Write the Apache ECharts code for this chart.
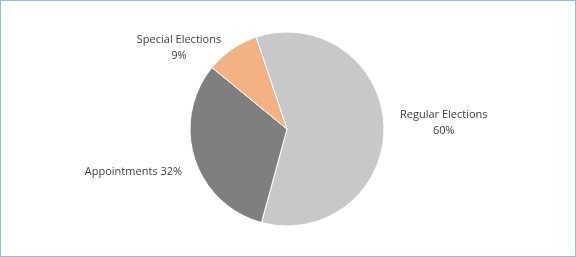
<!DOCTYPE html>
<html>
<head>
<meta charset="utf-8">
<script src="https://cdn.jsdelivr.net/npm/echarts@6/dist/echarts.min.js"></script>
<style>
html,body{margin:0;padding:0;background:#fff;}
#frame{width:576px;height:257px;box-sizing:border-box;border:1px solid #8fbbe4;position:relative;}
#chart{position:absolute;left:0;top:0;width:574px;height:255px;}
</style>
</head>
<body>
<div id="frame"><div id="chart"></div></div>
<script>
const categories = ['Regular Elections', 'Appointments', 'Special Elections'];
const values = [60, 32, 9];
const colors = ['#c8c8c8', '#7f7f7f', '#f4b183'];
const labelTemplates = ['{b}\n{c}%', '{b} {c}%', '{b}\n{c}%'];
// per-label fine offsets (from default outside position, centre of label box)
const labelShift = [[-3, -3], [6, 10], [4, 7]];

const chart = echarts.init(document.getElementById('chart'), null, {renderer: 'canvas'});
chart.setOption({
  animation: false,
  series: [{
    type: 'pie',
    center: [286, 128],
    radius: 97,
    startAngle: 108.6,
    clockwise: true,
    avoidLabelOverlap: false,
    itemStyle: {borderColor: '#ffffff', borderWidth: 1},
    label: {
      show: true,
      position: 'outside',
      fontFamily: 'Open Sans',
      fontSize: 11,
      color: '#404040',
      lineHeight: 16
    },
    labelLine: {show: false, length: 10, length2: 4},
    labelLayout: function (params) {
      const s = labelShift[params.dataIndex];
      const r = params.labelRect;
      return {
        x: r.x + r.width / 2 + s[0],
        y: r.y + r.height / 2 + s[1],
        align: 'center',
        verticalAlign: 'middle'
      };
    },
    data: categories.map((c, i) => ({
      name: c,
      value: values[i],
      itemStyle: {color: colors[i]},
      label: {formatter: labelTemplates[i]}
    }))
  }]
});
</script>
</body>
</html>
